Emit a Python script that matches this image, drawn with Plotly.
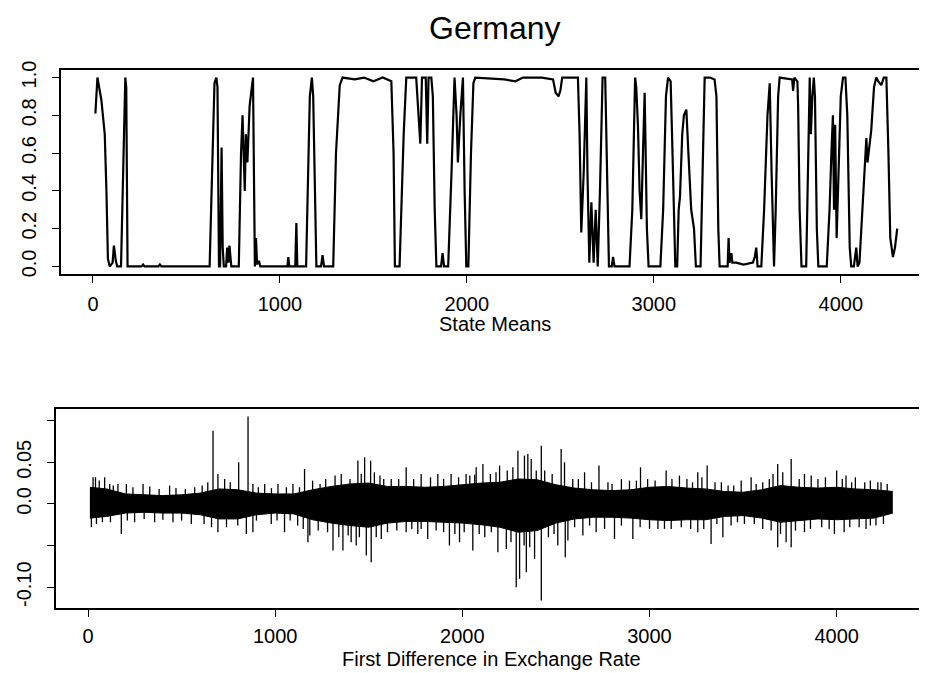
import plotly.graph_objects as go

# state means (top panel)
state_x = [13, 24, 45, 63, 72, 80, 90, 105, 112, 122, 130, 150, 173, 178, 185, 260, 268, 276,
           350, 358, 366, 624, 640, 650, 660, 666, 674, 680, 688, 694, 700, 712, 718, 725, 730,
           740, 780, 792, 800, 806, 812, 818, 826, 838, 856, 862, 866, 872, 878, 888, 895, 1040,
           1045, 1050, 1082, 1088, 1093, 1140, 1160, 1171, 1178, 1195, 1220, 1228, 1236, 1285,
           1300, 1320, 1335, 1400, 1450, 1500, 1550, 1596, 1608, 1615, 1640, 1662, 1676, 1729,
           1740, 1751, 1760, 1780, 1788, 1795, 1810, 1818, 1828, 1837, 1862, 1870, 1878, 1900,
           1918, 1934, 1945, 1952, 1965, 1979, 1988, 1997, 2008, 2022, 2035, 2045, 2200, 2260,
           2300, 2400, 2461, 2475, 2490, 2500, 2510, 2594, 2603, 2612, 2625, 2639, 2645, 2655,
           2666, 2678, 2689, 2700, 2712, 2726, 2740, 2752, 2760, 2775, 2782, 2790, 2870, 2885,
           2900, 2906, 2915, 2924, 2933, 2942, 2951, 2958, 2963, 2972, 3035, 3050, 3065, 3076,
           3090, 3100, 3115, 3125, 3133, 3140, 3152, 3161, 3174, 3185, 3200, 3215, 3225, 3250,
           3262, 3272, 3300, 3325, 3335, 3345, 3352, 3395, 3400, 3405, 3415, 3420, 3440, 3480,
           3530, 3540, 3548, 3555, 3575, 3590, 3608, 3620, 3630, 3643, 3652, 3665, 3673, 3740,
           3745, 3752, 3768, 3772, 3780, 3790, 3815, 3826, 3834, 3840, 3848, 3856, 3862, 3872,
           3880, 3925, 3940, 3950, 3958, 3964, 3970, 3978, 3988, 4000, 4012, 4025, 4035, 4048,
           4056, 4070, 4083, 4090, 4100, 4115, 4130, 4137, 4143, 4150, 4163, 4178, 4190, 4200,
           4217, 4230, 4244, 4255, 4265, 4279, 4290, 4302]
state_y = [0.81, 1.0, 0.88, 0.70, 0.40, 0.04, 0.0, 0.02, 0.11, 0.03, 0.0, 0.0, 1.0, 0.95, 0.0, 0.0, 0.01, 0.0,
           0.0, 0.01, 0.0, 0.0, 0.6, 0.97, 1.0, 0.95, 0.0, 0.0, 0.63, 0.1, 0.0, 0.0, 0.1, 0.02, 0.11,
           0.0, 0.0, 0.6, 0.8, 0.55, 0.4, 0.7, 0.55, 0.85, 1.0, 0.4, 0.0, 0.15, 0.01, 0.03, 0.0, 0.0,
           0.05, 0.0, 0.0, 0.23, 0.0, 0.0, 0.9, 1.0, 0.9, 0.0, 0.0, 0.06, 0.0, 0.0,
           0.6, 0.96, 1.0, 0.99, 1.0, 0.98, 1.0, 0.98, 0.6, 0.0, 0.0, 0.7, 1.0, 1.0,
           0.85, 0.65, 1.0, 1.0, 0.65, 1.0, 1.0, 0.9, 0.3, 0.0, 0.0, 0.07, 0.0, 0.0,
           0.5, 1.0, 0.8, 0.55, 0.8, 1.0, 0.4, 0.0, 0.0, 0.6, 0.97, 1.0, 0.99, 0.98,
           1.0, 1.0, 0.99, 0.92, 0.9, 0.93, 1.0, 1.0, 0.7, 0.18, 0.5, 1.0, 0.5, 0.02,
           0.34, 0.02, 0.3, 0.0, 0.4, 1.0, 1.0, 0.3, 0.0, 0.0, 0.05, 0.0, 0.0, 0.3,
           1.0, 0.95, 0.75, 0.4, 0.25, 0.6, 0.92, 0.5, 0.2, 0.0, 0.0, 0.3, 0.9, 1.0,
           0.98, 0.6, 0.0, 0.0, 0.3, 0.37, 0.7, 0.8, 0.83, 0.6, 0.3, 0.2, 0.0, 0.0,
           0.6, 1.0, 1.0, 0.99, 0.9, 0.2, 0.0, 0.0, 0.15, 0.02, 0.07, 0.02, 0.02, 0.01,
           0.02, 0.05, 0.1, 0.0, 0.0, 0.3, 0.8, 0.97, 0.5, 0.0, 0.3, 0.9, 1.0, 0.99,
           0.93, 1.0, 0.98, 0.85, 0.3, 0.0, 0.0, 0.6, 1.0, 0.7, 0.9, 1.0, 0.9, 0.2,
           0.0, 0.0, 0.3, 0.6, 0.8, 0.3, 0.75, 0.15, 0.45, 0.9, 1.0, 1.0, 0.8, 0.1,
           0.0, 0.0, 0.1, 0.0, 0.02, 0.3, 0.55, 0.68, 0.55, 0.6, 0.72, 0.95, 1.0, 0.98,
           0.96, 1.0, 1.0, 0.6, 0.15, 0.05, 0.1, 0.2]

# first difference (bottom panel): dense band every 100 obs
band_x = [10, 100, 200, 300, 400, 500, 600, 700, 800, 900, 1000, 1100, 1200, 1300, 1400, 1500,
          1600, 1700, 1800, 1900, 2000, 2100, 2200, 2300, 2400, 2500, 2600, 2700, 2800, 2900,
          3000, 3100, 3200, 3300, 3400, 3500, 3600, 3700, 3800, 3900, 4000, 4100, 4200, 4300]
band_hi = [0.020, 0.018, 0.012, 0.011, 0.010, 0.011, 0.013, 0.018, 0.017, 0.013, 0.012, 0.012,
           0.017, 0.021, 0.024, 0.025, 0.021, 0.021, 0.020, 0.021, 0.023, 0.025, 0.026, 0.030,
           0.029, 0.023, 0.019, 0.017, 0.016, 0.017, 0.020, 0.021, 0.019, 0.018, 0.015, 0.014,
           0.017, 0.022, 0.020, 0.019, 0.020, 0.018, 0.017, 0.015]
band_lo = [-0.017, -0.015, -0.011, -0.010, -0.011, -0.011, -0.013, -0.018, -0.018, -0.013,
           -0.011, -0.012, -0.019, -0.023, -0.026, -0.028, -0.023, -0.021, -0.021, -0.022,
           -0.023, -0.025, -0.028, -0.034, -0.032, -0.023, -0.018, -0.016, -0.016, -0.017,
           -0.019, -0.020, -0.019, -0.019, -0.015, -0.014, -0.017, -0.022, -0.020, -0.018,
           -0.019, -0.018, -0.017, -0.011]
# the spikes that stand out of the band
spike_x = [27, 40, 89, 116, 160, 205, 294, 436, 570, 668, 694, 730, 805, 855, 881, 944, 1015,
           1095, 1157, 1240, 1353, 1400, 1442, 1478, 1510, 1530, 1580, 1700, 1780, 1869, 1940,
           2020, 2066, 2074, 2110, 2150, 2199, 2297, 2332, 2350, 2368, 2395, 2422, 2528, 2546,
           2653, 2730, 2778, 2850, 2893, 2952, 3089, 3160, 3258, 3308, 3384, 3490, 3543, 3605,
           3685, 3712, 3757, 3828, 3864, 4000, 4050, 4100, 4150, 4237,
           60, 135, 240, 330, 380, 470, 520, 610, 640, 760, 910, 980, 1060, 1130, 1200, 1270,
           1320, 1460, 1560, 1620, 1660, 1740, 1830, 1900, 1980, 2040, 2180, 2240, 2270, 2440,
           2480, 2590, 2620, 2690, 2800, 2930, 2990, 3030, 3120, 3200, 3230, 3280, 3350, 3420,
           3450, 3570, 3640, 3660, 3800, 3900, 3940, 4030, 4080, 4180, 4220, 4270,
           18, 77, 178, 249, 356, 454, 552, 694, 800, 846, 881, 979, 1050, 1120, 1175, 1185,
           1309, 1362, 1406, 1433, 1487, 1513, 1567, 1700, 1762, 1815, 1931, 1985, 2056, 2155,
           2190, 2235, 2288, 2306, 2342, 2386, 2422, 2510, 2550, 2564, 2644, 2715, 2760, 2813,
           2911, 3045, 3116, 3258, 3329, 3392, 3436, 3507, 3605, 3685, 3730, 3757, 3828, 3988,
           4040, 4157, 4210,
           45, 120, 210, 300, 400, 500, 620, 660, 740, 900, 1010, 1080, 1150, 1230, 1280, 1340,
           1390, 1450, 1540, 1600, 1650, 1730, 1780, 1860, 1900, 1960, 2010, 2090, 2120, 2260,
           2330, 2360, 2460, 2490, 2600, 2680, 2850, 2950, 3000, 3080, 3170, 3220, 3290, 3360,
           3470, 3560, 3650, 3700, 3780, 3860, 3920, 3960, 4070, 4120, 4180, 4250]
spike_y = [0.032, 0.032, 0.032, 0.024, 0.024, 0.024, 0.024, 0.022, 0.020, 0.088, 0.036, 0.030,
           0.050, 0.105, 0.024, 0.024, 0.024, 0.024, 0.042, 0.024, 0.036, 0.030, 0.052, 0.056,
           0.052, 0.038, 0.030, 0.044, 0.036, 0.036, 0.036, 0.036, 0.035, 0.044, 0.048, 0.036,
           0.046, 0.064, 0.058, 0.060, 0.054, 0.040, 0.070, 0.066, 0.050, 0.038, 0.046, 0.026,
           0.030, 0.028, 0.044, 0.040, 0.034, 0.038, 0.046, 0.026, 0.028, 0.032, 0.026, 0.048,
           0.038, 0.054, 0.036, 0.034, 0.040, 0.034, 0.032, 0.026, 0.026,
           0.028, 0.022, 0.020, 0.021, 0.018, 0.019, 0.018, 0.022, 0.026, 0.026, 0.020, 0.019,
           0.020, 0.020, 0.028, 0.030, 0.034, 0.036, 0.034, 0.030, 0.030, 0.030, 0.032, 0.030,
           0.032, 0.034, 0.038, 0.040, 0.044, 0.040, 0.036, 0.030, 0.030, 0.026, 0.024, 0.028,
           0.030, 0.028, 0.030, 0.030, 0.026, 0.032, 0.026, 0.022, 0.022, 0.024, 0.030, 0.036,
           0.030, 0.030, 0.032, 0.030, 0.026, 0.028, 0.026, 0.024,
           -0.028, -0.022, -0.036, -0.022, -0.022, -0.022, -0.024, -0.034, -0.026, -0.036,
           -0.034, -0.024, -0.034, -0.026, -0.046, -0.038, -0.056, -0.056, -0.046, -0.050,
           -0.062, -0.070, -0.042, -0.034, -0.036, -0.042, -0.050, -0.046, -0.056, -0.034,
           -0.058, -0.054, -0.100, -0.090, -0.082, -0.066, -0.116, -0.050, -0.064, -0.044,
           -0.038, -0.034, -0.030, -0.042, -0.042, -0.030, -0.030, -0.034, -0.048, -0.040,
           -0.026, -0.024, -0.030, -0.052, -0.046, -0.052, -0.034, -0.036, -0.034, -0.030,
           -0.026,
           -0.024, -0.022, -0.020, -0.018, -0.019, -0.020, -0.024, -0.028, -0.028, -0.020,
           -0.020, -0.020, -0.030, -0.032, -0.034, -0.040, -0.038, -0.040, -0.040, -0.034,
           -0.032, -0.030, -0.030, -0.032, -0.034, -0.036, -0.034, -0.036, -0.040, -0.046,
           -0.050, -0.052, -0.040, -0.036, -0.028, -0.026, -0.026, -0.028, -0.030, -0.030,
           -0.028, -0.030, -0.030, -0.024, -0.022, -0.024, -0.032, -0.036, -0.032, -0.030,
           -0.028, -0.030, -0.028, -0.028, -0.026, -0.024]

W, H = 927, 673
FONT = "Liberation Sans, Arial, Helvetica, sans-serif"

# spikes as vertical segments from zero
seg_x, seg_y = [], []
for sx, sy in zip(spike_x, spike_y):
    seg_x += [sx, sx, None]
    seg_y += [0, sy, None]

fig = go.Figure()
fig.add_trace(go.Scatter(x=state_x, y=state_y, mode="lines",
                         line=dict(color="black", width=2.2), xaxis="x", yaxis="y"))
fig.add_trace(go.Scatter(x=band_x, y=band_hi, mode="lines",
                         line=dict(color="black", width=1), xaxis="x2", yaxis="y2"))
fig.add_trace(go.Scatter(x=band_x, y=band_lo, mode="lines", fill="tonexty",
                         fillcolor="black", line=dict(color="black", width=1),
                         xaxis="x2", yaxis="y2"))
fig.add_trace(go.Scatter(x=seg_x, y=seg_y, mode="lines",
                         line=dict(color="black", width=1.3), xaxis="x2", yaxis="y2"))

axis_style = dict(showline=True, mirror=True, linecolor="black", linewidth=1.5,
                  ticks="outside", ticklen=7, tickwidth=1, tickcolor="black",
                  showgrid=False, zeroline=False, automargin=False,
                  tickfont=dict(family=FONT, size=20, color="black"))

def label(text, x, y, size):
    return dict(text=text, x=x / W, y=1 - y / H, xref="paper", yref="paper",
                xanchor="center", yanchor="middle", showarrow=False,
                font=dict(family=FONT, size=size, color="black"))

fig.update_layout(
    width=W, height=H,
    margin=dict(l=0, r=0, t=0, b=0),
    paper_bgcolor="white", plot_bgcolor="white",
    showlegend=False,
    xaxis=dict(domain=[53 / W, 921 / W], range=[-171, 4472], anchor="y",
               tickvals=[0, 1000, 2000, 3000, 4000], ticklabelstandoff=4, **axis_style),
    yaxis=dict(domain=[1 - 266 / H, 1 - 62 / H], range=[-0.04, 1.04], anchor="x",
               tickvals=[0, 0.2, 0.4, 0.6, 0.8, 1.0],
               ticktext=["0.0", "0.2", "0.4", "0.6", "0.8", "1.0"],
               tickangle=-90, ticklabelstandoff=8, **axis_style),
    xaxis2=dict(domain=[48 / W, 917 / W], range=[-171, 4472], anchor="y2",
                tickvals=[0, 1000, 2000, 3000, 4000], ticklabelstandoff=2, **axis_style),
    yaxis2=dict(domain=[1 - 600 / H, 1 - 401 / H], range=[-0.125, 0.114], anchor="x2",
                tickvals=[-0.10, -0.05, 0.0, 0.05, 0.10],
                ticktext=["-0.10", "", "0.0", "0.05", ""],
                tickangle=-90, ticklabelstandoff=8, **axis_style),
    annotations=[
        label("Germany", 487, 20, 32),
        label("State Means", 487, 316, 20),
        label("First Difference in Exchange Rate", 483, 651, 20),
    ],
)

fig.write_html("out.html")
